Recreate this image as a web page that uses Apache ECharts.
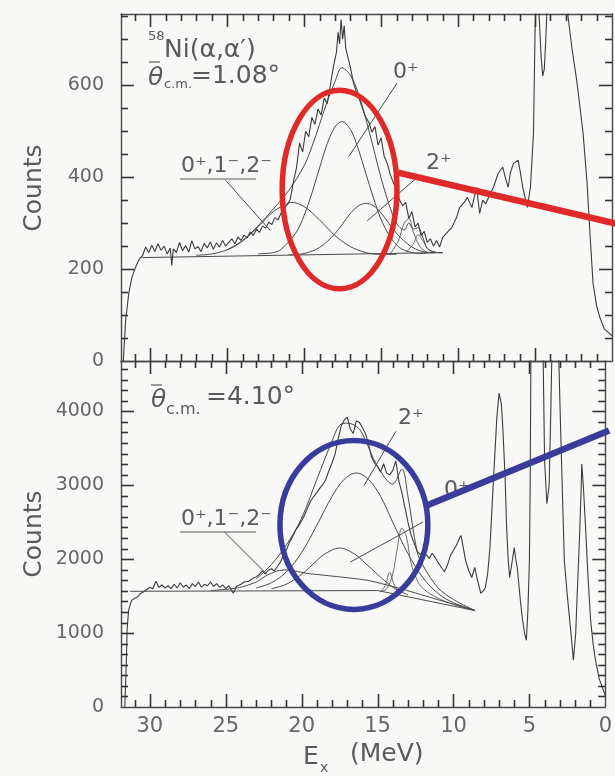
<!DOCTYPE html>
<html>
<head>
<meta charset="utf-8">
<script src="https://cdn.jsdelivr.net/npm/echarts@6/dist/echarts.min.js"></script>
<style>
  html, body { margin: 0; padding: 0; background: #f8f8f6; }
  #chart { width: 615px; height: 776px; }
</style>
</head>
<body>
<div id="chart"></div>
<script>
// ---- 58Ni(alpha,alpha') excitation spectra, two scattering angles ----

// Axis ranges / tick labels
const xTicks = [0, 5, 10, 15, 20, 25, 30];
const topYTicks = [0, 200, 400, 600];
const bottomYTicks = [0, 1000, 2000, 3000, 4000];

// Upper panel (theta = 1.08 deg): measured spectrum [Ex MeV, counts]
const topSpectrum = [
  [31.75,0],[31.6,87],[31.4,146],[31.2,181],[31.0,200],[30.85,212],[30.7,222],[30.5,229],[30.3,248],[30.1,236],
  [29.9,252],[29.7,238],[29.5,255],[29.3,241],[29.1,250],[28.9,233],[28.7,246],[28.6,208],[28.5,244],[28.3,236],
  [28.1,258],[27.9,240],[27.7,251],[27.5,237],[27.3,262],[27.1,244],[26.9,249],[26.7,238],[26.5,256],[26.3,246],
  [26.1,259],[25.9,243],[25.7,257],[25.5,248],[25.3,262],[25.1,250],[24.9,258],[24.7,266],[24.5,255],[24.3,270],
  [24.1,262],[23.9,274],[23.7,268],[23.5,281],[23.3,273],[23.1,287],[22.9,280],[22.7,294],[22.5,289],[22.3,302],
  [22.1,297],[21.9,312],[21.7,307],[21.5,322],[21.3,332],[21.1,340],[20.9,352],[20.7,390],[20.5,420],[20.3,474],
  [20.1,455],[19.9,500],[19.7,488],[19.5,530],[19.3,515],[19.1,548],[18.9,535],[18.7,572],[18.5,560],[18.3,600],
  [18.1,640],[17.9,672],[17.8,715],[17.7,690],[17.6,743],[17.5,700],[17.4,730],[17.3,680],[17.2,678],[17.0,640],
  [16.8,605],[16.6,585],[16.4,568],[16.2,548],[16.0,530],[15.8,520],[15.6,498],[15.4,510],[15.2,470],[15.0,485],
  [14.8,445],[14.6,430],[14.4,405],[14.2,388],[14.0,372],[13.8,350],[13.6,338],[13.4,345],[13.2,310],[13.0,325],
  [12.8,292],[12.6,300],[12.4,272],[12.2,282],[12.0,258],[11.8,266],[11.6,250],[11.4,262],[11.2,248],[11.0,269],
  [10.7,280],[10.4,291],[10.1,312],[9.9,334],[9.6,345],[9.4,356],[9.1,334],[8.8,378],[8.6,321],[8.4,350],
  [8.2,342],[7.9,365],[7.7,378],[7.4,408],[7.1,422],[6.9,395],[6.75,378],[6.6,410],[6.4,430],[6.1,437],
  [5.95,410],[5.8,378],[5.5,334],[5.3,378],[5.1,496],[5.0,715],[4.9,820],[4.75,760],[4.6,660],[4.5,620],
  [4.4,635],[4.3,700],[4.2,790],[4.0,880],[3.5,900],[3.0,880],[2.86,750],[2.6,680],[2.27,605],[1.88,496],
  [1.62,387],[1.43,277],[1.23,168],[1.0,120],[0.78,94],[0.5,70],[0.13,59],[0.0,55]
];
// Upper panel fit curves
const topBackground = [[30.5,225],[11.0,236]];
const topSum = [[25,242],[24,262],[23,294],[22,331],[21,371],[20,425],[19.5,466],[19,515],[18.5,565],[18,608],
  [17.55,638],[17,622],[16.5,584],[16,528],[15.5,463],[15,398],[14.5,342],[14,300],[13.5,285],[13.2,300],
  [12.9,287],[12.6,290],[12.3,270],[12,245],[11.5,237],[11,235]];
const topMonopole = [[23,233],[22,236],[21.5,243],[20.5,281],[20,317],[19.5,365],[19,420],[18.5,473],[18,509],
  [17.55,521],[17,504],[16.5,463],[16,409],[15.5,355],[15,308],[14.5,275],[14,253],[13.5,241],[12.5,234],[12,234]];
const topContinuum = [[27,230],[26,233],[25,242],[24,261],[23,292],[22,325],[21,344],[20.8,345],[20,336],[19,307],
  [18,273],[17,249],[16,236],[15,232],[14,232]];
const topQuadrupole = [[21,231],[20,234],[19,247],[18,277],[17,321],[16.5,337],[16,343],[15.5,338],[15,322],
  [14,278],[13,248],[12,236],[11.5,235]];
const topSmallA = [[14.4,234],[13.9,260],[13.5,300],[13.2,310],[12.9,280],[12.5,250],[12.0,237],[11.5,236]];
const topSmallB = [[13.4,236],[12.9,255],[12.6,275],[12.3,262],[11.9,242],[11.4,236]];

// Lower panel (theta = 4.10 deg): measured spectrum
const bottomSpectrum = [
  [31.65,0],[31.55,600],[31.5,1038],[31.4,1307],[31.3,1380],[31.2,1442],[31.0,1470],[30.85,1482],[30.6,1536],[30.4,1560],
  [30.2,1590],[30.0,1620],[29.8,1600],[29.6,1700],[29.4,1620],[29.2,1650],[29.0,1610],[28.8,1640],[28.6,1600],[28.4,1660],
  [28.2,1610],[28.0,1680],[27.8,1620],[27.6,1650],[27.4,1600],[27.2,1670],[27.0,1630],[26.8,1690],[26.6,1620],[26.4,1660],
  [26.2,1640],[26.0,1690],[25.8,1630],[25.6,1670],[25.4,1620],[25.2,1650],[25.0,1600],[24.8,1640],[24.5,1540],[24.3,1630],
  [24.0,1660],[23.8,1690],[23.5,1700],[23.2,1740],[23.0,1760],[22.8,1790],[22.6,1840],[22.4,1800],[22.2,1850],[22.0,1870],
  [21.8,1840],[21.6,1900],[21.4,1960],[21.2,2050],[21.0,2130],[20.8,2230],[20.6,2300],[20.4,2390],[20.2,2450],[20.0,2520],
  [19.8,2600],[19.6,2700],[19.4,2790],[19.2,2850],[19.0,2900],[18.8,2960],[18.6,3010],[18.4,3080],[18.2,3200],[18.0,3300],
  [17.8,3420],[17.6,3620],[17.4,3800],[17.2,3880],[17.0,3920],[16.9,3850],[16.8,3760],[16.6,3700],[16.4,3870],[16.2,3850],
  [16.0,3780],[15.8,3700],[15.6,3560],[15.4,3380],[15.2,3300],[15.0,3250],[14.8,3180],[14.6,3290],[14.4,3160],[14.2,3140],
  [14.0,3200],[13.8,3330],[13.6,3060],[13.4,2900],[13.2,2700],[13.0,2500],[12.8,2330],[12.6,2220],[12.4,2110],[12.2,2060],
  [12.0,2090],[11.8,2060],[11.6,2010],[11.4,2080],[11.2,2020],[11.0,1950],[10.8,1890],[10.6,1830],[10.4,1920],[10.2,2050],
  [10.0,2120],[9.8,2190],[9.6,2290],[9.5,2318],[9.35,2150],[9.2,1981],[9.0,1850],[8.8,1752],[8.6,1887],[8.4,1700],
  [8.2,1536],[8.0,1580],[7.9,1617],[7.75,1800],[7.6,2156],[7.45,2750],[7.3,3329],[7.15,3900],[7.0,4245],[6.95,4240],
  [6.85,4100],[6.75,3774],[6.6,3100],[6.5,2426],[6.4,2000],[6.3,1752],[6.15,1950],[6.0,2156],[5.9,2000],[5.8,1887],
  [5.6,1450],[5.45,1172],[5.3,980],[5.2,903],[5.1,1300],[5.0,1981],[4.95,3000],[4.9,4800],[4.5,5500],[4.1,4800],
  [4.0,3329],[3.85,2750],[3.7,3000],[3.6,3900],[3.5,5000],[3.1,5000],[2.95,3800],[2.7,1981],[2.5,1500],[2.3,1078],
  [2.1,633],[1.95,1000],[1.85,1536],[1.7,2300],[1.6,2884],[1.55,3288],[1.45,3000],[1.3,2426],[1.15,1800],[0.97,1172],
  [0.8,850],[0.65,633],[0.4,380],[0.13,229],[0.0,150]
];
// Lower panel fit curves
const bottomBackground = [[31.3,1565],[15.0,1575],[8.6,1305]];
const bottomContinuum = [[26,1575],[25,1590],[24,1620],[23,1690],[22.3,1780],[21.6,1840],[21.0,1855],[19.6,1806],
  [17.5,1760],[15.6,1711],[13.3,1590],[11,1450],[8.6,1305]];
const bottomQuadrupole = [[23,1611],[22,1680],[21,1828],[20,2091],[19,2459],[18,2848],[17.2,3079],[16.4,3165],
  [15.6,3079],[14.8,2848],[14,2498],[13,2074],[12,1745],[11,1533],[10,1410],[8.6,1310]];
const bottomMonopole = [[22,1600],[21,1662],[20,1794],[19,1981],[18.5,2068],[17.5,2150],[16.5,2068],[16,1981],
  [15,1794],[14,1620],[13,1516]];
const bottomNarrowA = [[14.8,1560],[14.4,1600],[14.0,1800],[13.7,2150],[13.4,2420],[13.1,2300],[12.8,1950],
  [12.4,1720],[12.0,1600],[11.0,1470],[10.0,1390],[8.6,1305]];
const bottomNarrowB = [[14.8,1560],[14.5,1640],[14.2,1820],[13.9,1650],[13.5,1540]];
const bottomSum = [[23,1731],[22,1925],[21,2195],[20,2555],[19,3080],[18,3596],[17.5,3812],[17,3839],[16.4,3797],
  [16,3696],[15,3255],[14,3015],[13.4,3218],[13,2849],[12.4,2106],[12,1910],[11,1608],[10,1455],[8.6,1305]];

// Label texts
const reactionText = 'Ni(α,α′)';
const massNumber = '58';
const topAngle = '=1.08°';
const bottomAngle = '=4.10°';
const continuumLabel = '0⁺,1⁻,2⁻';

const INK = '#4a4a4a';
const TICK = '#333333';
const TXT = '#5a5a5a';
const FONT = 'DejaVu Sans';
const X_MAX = 31.9;
const TOP_MAX = 755;
const BOTTOM_MAX = 4680;
// tick spacing (major / minor) along each axis
const X_MINOR = 1, X_MAJOR = 5;
const TOP_MINOR = 50, TOP_MAJOR = 200;
const BOTTOM_MINOR = 1000 / 7, BOTTOM_MAJOR = 1000;

const chart = echarts.init(document.getElementById('chart'), null, { renderer: 'canvas' });

function xAxes(gridIndex, withLabels) {
  const common = {
    type: 'value', gridIndex, inverse: true, min: 0, max: X_MAX, interval: X_MAJOR,
    axisLine: { show: true, onZero: false, lineStyle: { color: INK, width: 1.4 } },
    axisTick: { show: false },
    splitLine: { show: false }
  };
  return [
    Object.assign({}, common, {
      position: 'bottom',
      axisLabel: {
        show: withLabels, color: '#666', fontSize: 21, fontFamily: FONT, margin: 9,
        showMaxLabel: false,
        formatter: v => (xTicks.indexOf(v) >= 0 ? String(v) : '')
      }
    }),
    Object.assign({}, common, { position: 'top', axisLabel: { show: false } })
  ];
}

function yAxes(gridIndex, max, step, ticks) {
  const common = {
    type: 'value', gridIndex, min: 0, max, interval: step,
    axisLine: { show: true, onZero: false, lineStyle: { color: INK, width: 1.4 } },
    axisTick: { show: false },
    splitLine: { show: false }
  };
  return [
    Object.assign({}, common, {
      position: 'left',
      axisLabel: {
        show: true, color: '#666', fontSize: 19, fontFamily: FONT, margin: 17,
        showMaxLabel: false,
        formatter: v => (ticks.indexOf(v) >= 0 ? String(v) : '')
      }
    }),
    Object.assign({}, common, { position: 'right', axisLabel: { show: false } })
  ];
}

function curve(data, xi, yi, opts) {
  return Object.assign({
    type: 'line', data, xAxisIndex: xi, yAxisIndex: yi,
    showSymbol: false, symbol: 'none', silent: true, animation: false,
    lineStyle: { color: INK, width: 1 }, z: 3
  }, opts || {});
}

function arrows(pairs) {
  return {
    silent: true, animation: false,
    symbol: ['none', 'arrow'], symbolSize: [0, 9],
    label: { show: false },
    lineStyle: { color: INK, width: 1, type: 'solid' },
    data: pairs.map(p => [{ coord: p[0] }, { coord: p[1] }])
  };
}

chart.setOption({
  backgroundColor: '#f8f8f6',
  animation: false,
  grid: [
    { left: 121, right: 3, top: 14, height: 347 },
    { left: 121, right: 3, top: 361, height: 346 }
  ],
  xAxis: [...xAxes(0, false), ...xAxes(1, true)],
  yAxis: [...yAxes(0, TOP_MAX, TOP_MAJOR, topYTicks), ...yAxes(1, BOTTOM_MAX, BOTTOM_MAJOR, bottomYTicks)],
  series: [
    // upper panel
    curve(topBackground, 0, 0, {
      markLine: arrows([
        [[25.1, 393], [22.2, 284]],
        [[13.96, 605], [17.1, 445]],
        [[12.6, 401], [15.9, 305]]
      ])
    }),
    curve(topContinuum, 0, 0, { smooth: 0.35 }),
    curve(topMonopole, 0, 0, { smooth: 0.35 }),
    curve(topQuadrupole, 0, 0, { smooth: 0.35 }),
    curve(topSmallA, 0, 0, { smooth: 0.35, lineStyle: { color: INK, width: 0.8 } }),
    curve(topSmallB, 0, 0, { smooth: 0.35, lineStyle: { color: INK, width: 0.8 } }),
    curve(topSum, 0, 0, { smooth: 0.35 }),
    curve(topSpectrum, 0, 0, { lineStyle: { color: '#3c3c3c', width: 1.1 }, z: 4 }),
    // lower panel
    curve(bottomBackground, 2, 2, {
      markLine: arrows([
        [[25.1, 2370], [22.3, 1796]],
        [[13.8, 3728], [15.9, 2993]],
        [[12.0, 2503], [16.8, 1959]]
      ])
    }),
    curve(bottomContinuum, 2, 2, { smooth: 0.2 }),
    curve(bottomQuadrupole, 2, 2, { smooth: 0.35 }),
    curve(bottomMonopole, 2, 2, { smooth: 0.35 }),
    curve(bottomNarrowA, 2, 2, { smooth: 0.35, lineStyle: { color: INK, width: 0.8 } }),
    curve(bottomNarrowB, 2, 2, { smooth: 0.35, lineStyle: { color: INK, width: 0.8 } }),
    curve(bottomSum, 2, 2, { smooth: 0.35 }),
    curve(bottomSpectrum, 2, 2, { lineStyle: { color: '#3c3c3c', width: 1.1 }, z: 4 })
  ]
});

// ---- overlay: inward ticks, highlight ellipses, pointer lines and text labels ----
const px = (xi, yi, e, c) => chart.convertToPixel({ xAxisIndex: xi, yAxisIndex: yi }, [e, c]);

function seg(x1, y1, x2, y2, color, width, z) {
  return { type: 'line', z: z || 12, silent: true, shape: { x1, y1, x2, y2 }, style: { stroke: color, lineWidth: width } };
}

// inward ticks on all four sides of one panel
function frameTicks(xi, yi, yMax, yMinor, yMajor) {
  const out = [];
  const yBottom = px(xi, yi, 0, 0)[1];
  const yTop = px(xi, yi, 0, yMax)[1];
  for (let k = 1; k * X_MINOR < X_MAX - 1e-6; k++) {
    const e = k * X_MINOR;
    const major = k % (X_MAJOR / X_MINOR) === 0;
    const len = major ? 13 : 7;
    const x = Math.round(px(xi, yi, e, 0)[0]) + 0.5;
    out.push(seg(x, yBottom, x, yBottom - len, TICK, 1.6));
    out.push(seg(x, yTop, x, yTop + len, TICK, 1.6));
  }
  const xLeft = px(xi, yi, X_MAX, 0)[0];
  const xRight = px(xi, yi, 0, 0)[0];
  const per = Math.round(yMajor / yMinor);
  for (let k = 1; k * yMinor < yMax - 1e-6; k++) {
    const c = k * yMinor;
    const major = k % per === 0;
    const len = major ? 13 : 7;
    const y = Math.round(px(xi, yi, 0, c)[1]) + 0.5;
    out.push(seg(xLeft, y, xLeft + len, y, TICK, 1.6));
    out.push(seg(xRight, y, xRight - len, y, TICK, 1.6));
  }
  return out;
}

function ellipseAround(xi, yi, e, c, halfE, halfC, color) {
  const ctr = px(xi, yi, e, c);
  const edgeX = px(xi, yi, e - halfE, c);
  const edgeY = px(xi, yi, e, c + halfC);
  return {
    type: 'ellipse', z: 20, silent: true,
    shape: { cx: ctr[0], cy: ctr[1], rx: Math.abs(edgeX[0] - ctr[0]), ry: Math.abs(edgeY[1] - ctr[1]) },
    style: { fill: 'none', stroke: color, lineWidth: 5.5 }
  };
}
function pointer(xi, yi, from, to, color) {
  const a = px(xi, yi, from[0], from[1]);
  const b = px(xi, yi, to[0], to[1]);
  return {
    type: 'line', z: 20, silent: true,
    shape: { x1: a[0], y1: a[1], x2: b[0], y2: b[1] },
    style: { stroke: color, lineWidth: 6.5, lineCap: 'butt' }
  };
}
function label(text, x, y, size, extra, rotation) {
  return {
    type: 'text', x, y, z: 15, silent: true, rotation: rotation || 0,
    style: Object.assign({
      text, fontSize: size, fontFamily: FONT, fill: TXT,
      align: 'left', verticalAlign: 'middle'
    }, extra || {})
  };
}
function bar(x1, x2, y) {
  return seg(x1, y, x2, y, TXT, 1.2, 15);
}

const RED = '#e02a2a';
const BLUE = '#3a3c9c';

chart.setOption({
  graphic: {
    elements: [
      ...frameTicks(0, 0, TOP_MAX, TOP_MINOR, TOP_MAJOR),
      ...frameTicks(2, 2, BOTTOM_MAX, BOTTOM_MINOR, BOTTOM_MAJOR),

      // axis titles
      label('Counts', 34, 188, 25, { align: 'center' }, Math.PI / 2),
      label('Counts', 34, 534, 25, { align: 'center' }, Math.PI / 2),
      label('E', 303, 757, 25),
      label('x', 320, 768, 14),
      label('(MeV)', 350, 754, 25),

      // upper panel captions
      label(massNumber, 148, 37, 13),
      label(reactionText, 164, 50, 25),
      label('θ', 148, 78, 25, { fontStyle: 'italic' }),
      bar(149, 160, 62),
      label('c.m.', 164, 85, 13),
      label(topAngle, 191, 76, 25),
      label(continuumLabel, 181, 166, 22),
      bar(180, 256, 179),
      label('0⁺', 393, 72, 22),
      label('2⁺', 426, 163, 22),

      // lower panel captions
      label('θ', 151, 400, 25, { fontStyle: 'italic' }),
      bar(151, 162, 385),
      label('c.m.', 166, 410, 16),
      label(bottomAngle, 206, 397, 25),
      label(continuumLabel, 181, 519, 22),
      bar(180, 256, 532),
      label('2⁺', 398, 418, 22),
      label('0⁺', 444, 490, 22),

      // highlights
      ellipseAround(0, 0, 17.7, 373, 3.73, 216, RED),
      pointer(0, 0, [13.9, 410], [-0.25, 299], RED),
      ellipseAround(2, 2, 16.56, 2463, 4.87, 1143, BLUE),
      pointer(2, 2, [11.8, 2721], [-0.25, 3741], BLUE)
    ]
  }
});
</script>
</body>
</html>
